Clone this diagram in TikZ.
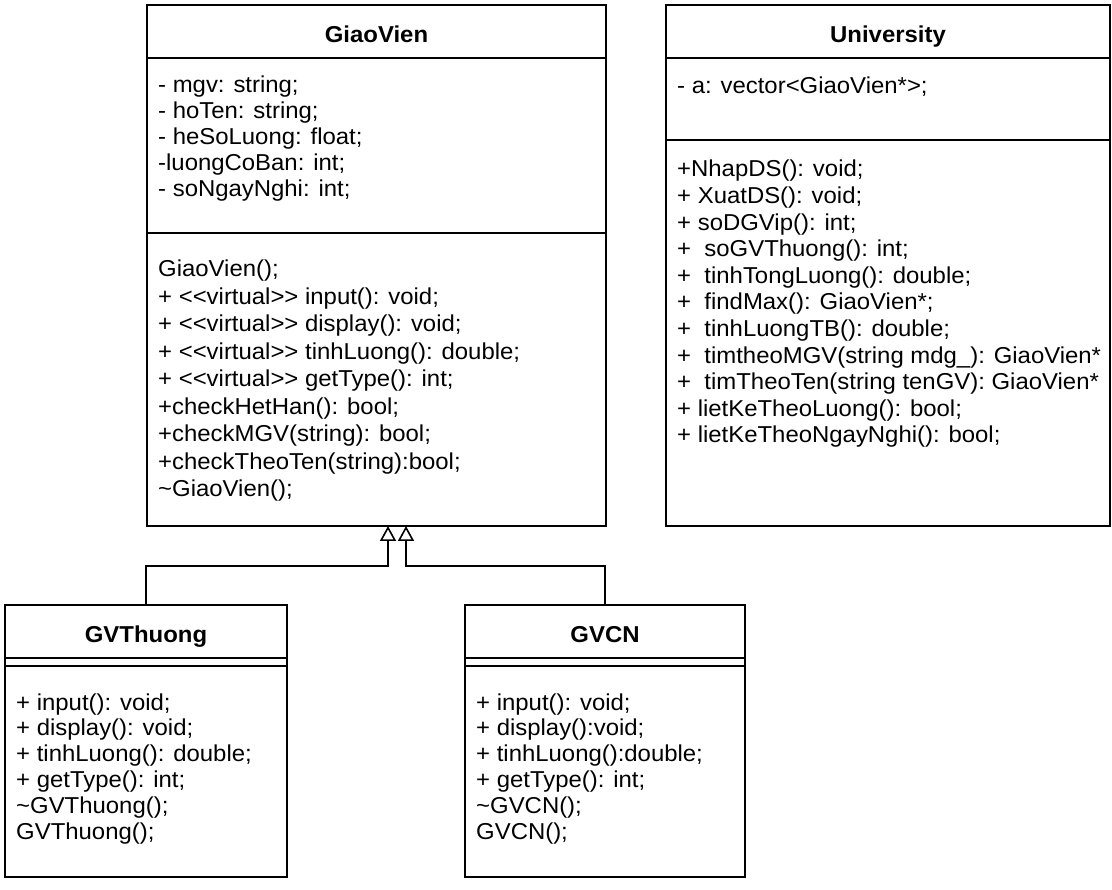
\documentclass[tikz,border=0pt]{standalone}
\usepackage{fontspec}
\setmainfont{Liberation Sans}[FakeStretch=1.04]
\usetikzlibrary{arrows.meta,positioning,calc}

\begin{document}
\begin{tikzpicture}[x=1pt, y=-1pt,
        classhead/.style={rectangle, draw, line width=2pt, outer sep=0pt, inner sep=0pt, minimum height=53pt, text height=22pt, text depth=0pt, font=\fontsize{23}{26}\selectfont\bfseries},
        compart/.style={rectangle, draw, line width=2pt, outer sep=0pt, inner sep=0pt},
        member/.style={anchor=base west, inner sep=0pt, font=\fontsize{23}{26}\selectfont},
        inherit/.style={line width=2pt, -{Triangle[open, length=15pt, width=16pt, line width=1.6pt]}}]

        \useasboundingbox (0,0) rectangle (1112,890);

        % Base class (top left)
        \node[classhead, minimum width=459pt, anchor=north west] (gv) at (147,5) {GiaoVien};
        \node[compart, minimum width=459pt, minimum height=175pt, below=0pt of gv] (gvattr) {};
        \node[compart, minimum width=459pt, minimum height=293pt, below=0pt of gvattr] (gvop) {};
        \foreach \m [count=\i from 0] in {- mgv: string;, - hoTen: string;, - heSoLuong: float;, -luongCoBan: int;, - soNgayNghi: int;}
            \node[member] at ($(gvattr.north west)+(11,35+26*\i)$) {\m};
        \foreach \m [count=\i from 0] in {GiaoVien();, + <{}<virtual>{}> input(): void;, + <{}<virtual>{}> display(): void;, + <{}<virtual>{}> tinhLuong(): double;, + <{}<virtual>{}> getType(): int;, +checkHetHan(): bool;, +checkMGV(string): bool;, +checkTheoTen(string):bool;, \textasciitilde GiaoVien();}
            \node[member] at ($(gvop.north west)+(11,44+27.5*\i)$) {\m};

        % Container class (top right)
        \node[classhead, minimum width=444pt, anchor=north west] (uni) at (666,5) {University};
        \node[compart, minimum width=444pt, minimum height=82pt, below=0pt of uni] (uniattr) {};
        \node[compart, minimum width=444pt, minimum height=386pt, below=0pt of uniattr] (uniop) {};
        \node[member] at ($(uniattr.north west)+(11,36)$) {- a: vector<GiaoVien*>;};
        \foreach \m [count=\i from 0] in {+NhapDS(): void;, + XuatDS(): void;, + soDGVip(): int;, +\ \ soGVThuong(): int;, +\ \ tinhTongLuong(): double;, +\ \ findMax(): GiaoVien*;, +\ \ tinhLuongTB(): double;, +\ \ timtheoMGV(string mdg\_): GiaoVien*, +\ \ timTheoTen(string tenGV): GiaoVien*, + lietKeTheoLuong(): bool;, + lietKeTheoNgayNghi(): bool;}
            \node[member] at ($(uniop.north west)+(11,37+26.6*\i)$) {\m};

        % Derived classes (bottom)
        \node[classhead, minimum width=282pt, anchor=north west] (gvt) at (5,605) {GVThuong};
        \node[compart, minimum width=282pt, minimum height=8pt, below=0pt of gvt] (gvtattr) {};
        \node[compart, minimum width=282pt, minimum height=211pt, below=0pt of gvtattr] (gvtop) {};
        \foreach \m [count=\i from 0] in {+ input(): void;, + display(): void;, + tinhLuong(): double;, + getType(): int;, \textasciitilde GVThuong();, GVThuong();}
            \node[member] at ($(gvtop.north west)+(11,44+25.8*\i)$) {\m};

        \node[classhead, minimum width=280pt, anchor=north west] (gvcn) at (465,605) {GVCN};
        \node[compart, minimum width=280pt, minimum height=8pt, below=0pt of gvcn] (gvcnattr) {};
        \node[compart, minimum width=280pt, minimum height=211pt, below=0pt of gvcnattr] (gvcnop) {};
        \foreach \m [count=\i from 0] in {+ input(): void;, + display():void;, + tinhLuong():double;, + getType(): int;, \textasciitilde GVCN();, GVCN();}
            \node[member] at ($(gvcnop.north west)+(11,44+25.8*\i)$) {\m};

        % Generalization arrows
        \draw[inherit] (gvt.north) -- ++(0,-39) -| ([xshift=11.5pt]gvop.south);
        \draw[inherit] (gvcn.north) -- ++(0,-39) -| ([xshift=29.5pt]gvop.south);
    \end{tikzpicture}
\end{document}
